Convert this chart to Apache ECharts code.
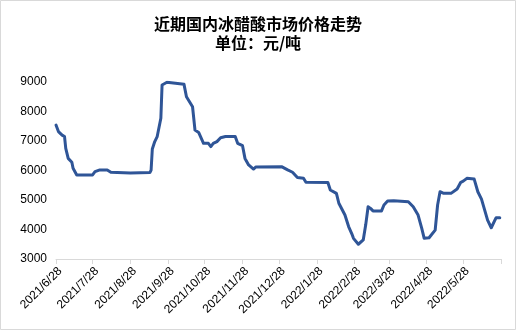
<!DOCTYPE html>
<html>
<head>
<meta charset="utf-8">
<script src="https://cdn.jsdelivr.net/npm/echarts@6/dist/echarts.min.js"></script>
<style>
  html, body { margin: 0; padding: 0; background: #fff; }
  #chart { width: 516px; height: 330px; }
</style>
</head>
<body>
<div id="chart"></div>
<script>
// Glacial acetic acid domestic price, yuan per tonne
const dates = [
  '2021/6/28', '2021/6/30', '2021/7/3', '2021/7/5', '2021/7/6', '2021/7/8', '2021/7/11', '2021/7/12',
  '2021/7/15', '2021/7/28', '2021/7/30', '2021/8/3', '2021/8/9', '2021/8/12', '2021/8/28', '2021/9/13',
  '2021/9/14', '2021/9/15', '2021/9/17', '2021/9/19', '2021/9/22', '2021/9/23', '2021/9/27', '2021/10/4',
  '2021/10/11', '2021/10/13', '2021/10/18', '2021/10/20', '2021/10/23', '2021/10/27', '2021/10/31', '2021/11/2',
  '2021/11/4', '2021/11/7', '2021/11/10', '2021/11/14', '2021/11/22', '2021/11/24', '2021/11/28', '2021/11/30',
  '2021/12/3', '2021/12/7', '2021/12/9', '2021/12/30', '2022/1/4', '2022/1/8', '2022/1/12', '2022/1/17',
  '2022/1/19', '2022/2/6', '2022/2/8', '2022/2/13', '2022/2/15', '2022/2/20', '2022/2/23', '2022/2/26',
  '2022/2/27', '2022/3/3', '2022/3/7', '2022/3/9', '2022/3/11', '2022/3/13', '2022/3/15', '2022/3/22',
  '2022/3/24', '2022/3/27', '2022/4/1', '2022/4/13', '2022/4/17', '2022/4/21', '2022/4/24', '2022/4/26',
  '2022/4/30', '2022/5/5', '2022/5/7', '2022/5/9', '2022/5/12', '2022/5/18', '2022/5/23', '2022/5/26',
  '2022/5/28', '2022/5/31', '2022/6/6', '2022/6/9', '2022/6/12', '2022/6/17', '2022/6/20', '2022/6/24',
  '2022/6/27'
];
const prices = [
  7540, 7320, 7200, 7150, 6750, 6410, 6280, 6075,
  5850, 5850, 5960, 6020, 6020, 5940, 5915, 5930,
  6015, 6730, 6980, 7150, 7770, 8900, 8990, 8955,
  8920, 8500, 8160, 7370, 7290, 6920, 6920, 6810,
  6920, 6980, 7110, 7150, 7150, 6920, 6840, 6410,
  6190, 6050, 6120, 6130, 6020, 5940, 5760, 5735,
  5600, 5590, 5340, 5225, 4890, 4490, 4100, 3815,
  3700, 3500, 3645, 4150, 4770, 4715, 4630, 4630,
  4830, 4965, 4975, 4940, 4770, 4490, 4040, 3700,
  3720, 3980, 4830, 5280, 5225, 5225, 5370, 5600,
  5640, 5735, 5710, 5280, 5030, 4320, 4060, 4400,
  4400
];
const axisStart = '2021/6/28';
const axisEnd = '2022/6/28';
const yTicks = { min: 3000, max: 9000, step: 1000 };

// Daily category axis spanning the whole year, so spacing follows the calendar
function fmt(d) {
  return d.getFullYear() + '/' + (d.getMonth() + 1) + '/' + d.getDate();
}
const days = [];
{
  const [y0, m0, d0] = axisStart.split('/').map(Number);
  const cur = new Date(y0, m0 - 1, d0);
  while (true) {
    const s = fmt(cur);
    days.push(s);
    if (s === axisEnd) break;
    cur.setDate(cur.getDate() + 1);
  }
}
const lastIdx = days.length - 1;
const isMonthMark = (v) => /\/28$/.test(v);

const chart = echarts.init(document.getElementById('chart'), null, { renderer: 'canvas' });
chart.setOption({
  animation: false,
  backgroundColor: '#fff',
  title: {
    text: '近期国内冰醋酸市场价格走势\n单位：元/吨',
    left: 'center',
    top: 9,
    textStyle: {
      fontFamily: 'Noto Sans CJK SC',
      fontSize: 16,
      fontWeight: 'bold',
      lineHeight: 19,
      color: '#000'
    }
  },
  graphic: [{
    type: 'rect',
    silent: true,
    z: -1,
    shape: { x: 0.5, y: 0.5, width: 515, height: 329 },
    style: { fill: null, stroke: '#d9d9d9', lineWidth: 1 }
  }],
  grid: { left: 56, right: 15, top: 82, bottom: 71 },
  xAxis: {
    type: 'category',
    data: days,
    boundaryGap: false,
    axisLine: { lineStyle: { color: '#d9d9d9', width: 1 } },
    axisTick: {
      length: 5,
      interval: (i, v) => isMonthMark(v),
      lineStyle: { color: '#d9d9d9' }
    },
    axisLabel: {
      interval: (i, v) => isMonthMark(v) && i !== lastIdx,
      rotate: 45,
      margin: 6,
      verticalAlign: 'top',
      fontSize: 12,
      fontFamily: 'Liberation Sans',
      color: '#000'
    }
  },
  yAxis: {
    type: 'value',
    min: yTicks.min,
    max: yTicks.max,
    interval: yTicks.step,
    axisLine: { show: false },
    axisTick: { show: false },
    splitLine: { show: false },
    axisLabel: {
      margin: 9,
      fontSize: 12,
      fontFamily: 'Liberation Sans',
      color: '#000',
      formatter: (v) => String(v)
    }
  },
  series: [{
    type: 'line',
    data: dates.map((d, i) => [d, prices[i]]),
    showSymbol: false,
    symbol: 'none',
    lineStyle: { color: '#2f5597', width: 3, join: 'round', cap: 'round' },
    itemStyle: { color: '#2f5597' }
  }]
});
</script>
</body>
</html>
